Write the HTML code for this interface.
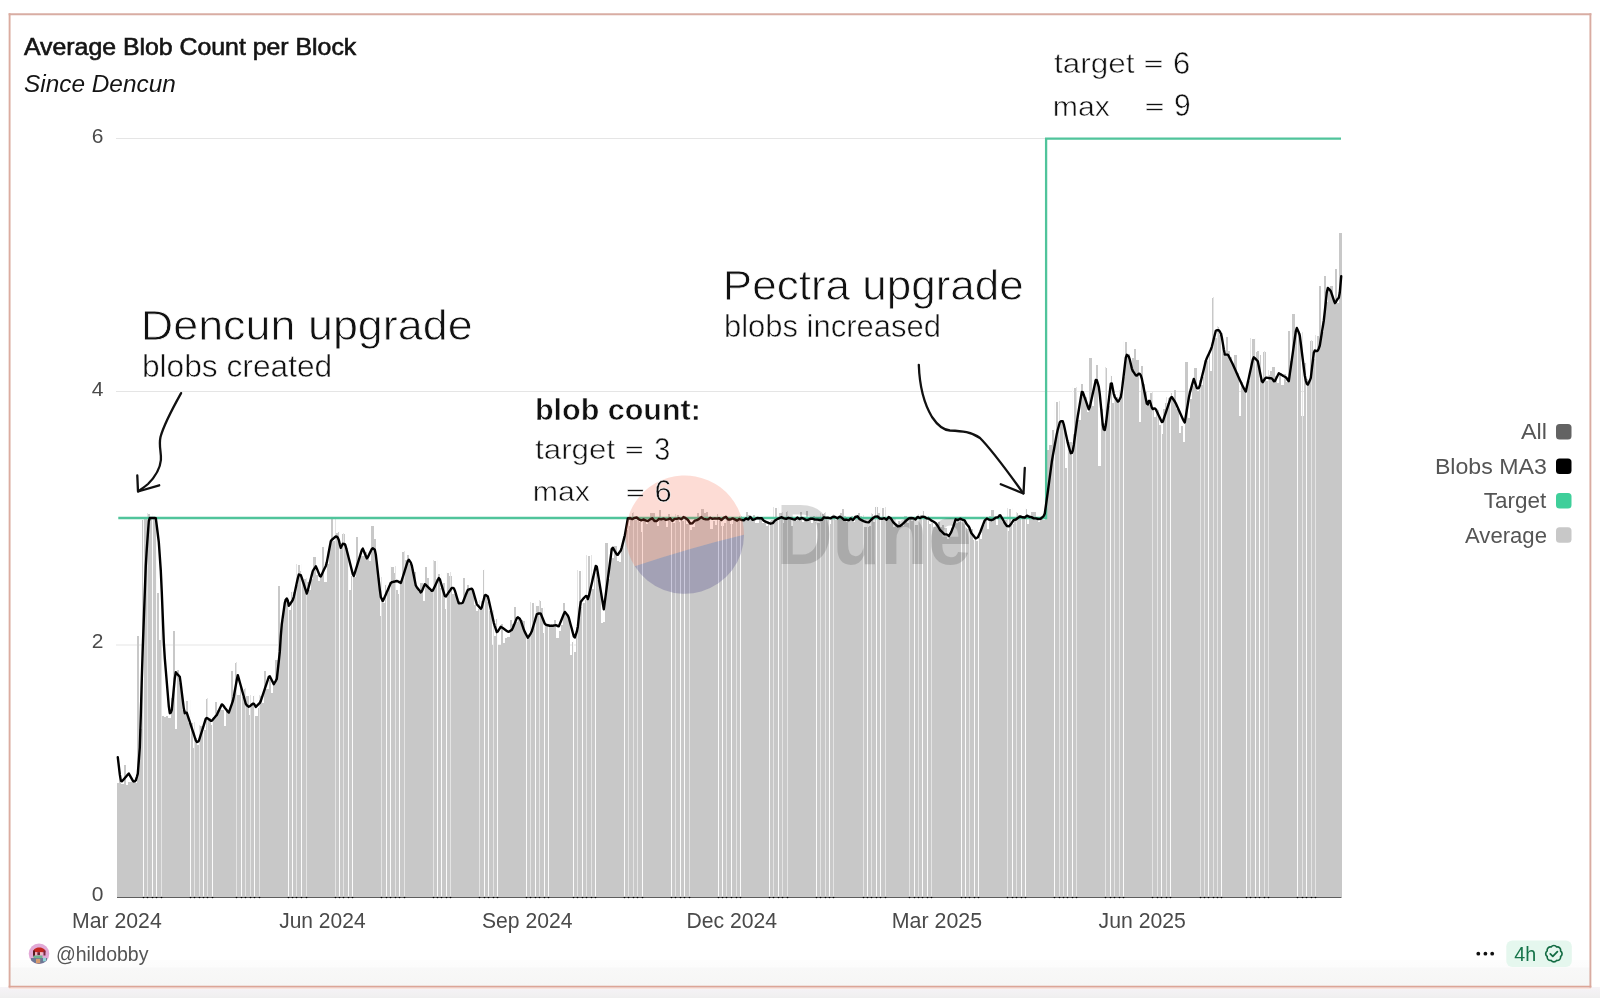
<!DOCTYPE html>
<html><head><meta charset="utf-8"><title>Average Blob Count per Block</title>
<style>
html,body{margin:0;padding:0;}
body{width:1600px;height:998px;overflow:hidden;background:#fff;position:relative;font-family:"Liberation Sans",sans-serif;}
.under{position:absolute;left:0;top:987px;width:1600px;height:11px;background:linear-gradient(#f6f3f7,#efefef);}
.card{position:absolute;left:9px;top:13px;width:1579px;height:972px;border:1.5px solid #e2ab9f;background:#fff;}
.foot{position:absolute;left:10px;top:960px;width:1580px;height:26px;background:linear-gradient(#fdfdfd 0px,#fcfcfc 7px,#f8f8f8 8px,#f6f6f5 26px);}
svg{position:absolute;left:0;top:0;will-change:transform;}
</style></head>
<body>
<div class="under"></div>
<div class="foot"></div>
<svg width="1600" height="998" viewBox="0 0 1600 998" font-family="Liberation Sans, sans-serif">
  <g stroke-width="1.9" fill="none">
    <line x1="8.65" y1="14.3" x2="1591.35" y2="14.3" stroke="#d8ada3"/>
    <line x1="9.6" y1="13.35" x2="9.6" y2="987.55" stroke="#dbaca0"/>
    <line x1="1590.4" y1="13.35" x2="1590.4" y2="987.55" stroke="#d9aba1"/>
    <line x1="8.65" y1="986.6" x2="1591.35" y2="986.6" stroke="#dca597"/>
  </g>
  <rect x="9" y="988" width="1582" height="1" fill="#fbe4dc"/>
  <text x="24.00" y="55.4" font-size="23.2" textLength="332.24" lengthAdjust="spacingAndGlyphs" fill="#141414" stroke="#141414" stroke-width="0.6">Average Blob Count per Block</text>
  <text x="23.98" y="92" font-size="23.5" font-style="italic" textLength="151.88" lengthAdjust="spacingAndGlyphs" fill="#141414">Since Dencun</text>
  <!-- gridlines -->
  <g stroke="#e5e5e5" stroke-width="1.1">
    <line x1="116" y1="138.5" x2="1341" y2="138.5"/>
    <line x1="116" y1="391.5" x2="1341" y2="391.5"/>
    <line x1="116" y1="645" x2="1341" y2="645"/>
  </g>

  <!-- y labels -->
  <g font-size="21" fill="#4a4a4a" text-anchor="end">
    <text x="103.5" y="143">6</text>
    <text x="103.5" y="395.5">4</text>
    <text x="103.5" y="648">2</text>
    <text x="103.5" y="901">0</text>
  </g>
  <text x="72.02" y="928.2" font-size="21.5" textLength="89.71" lengthAdjust="spacingAndGlyphs" fill="#4a4a4a">Mar 2024</text>
  <text x="279.21" y="928.2" font-size="21.5" textLength="86.35" lengthAdjust="spacingAndGlyphs" fill="#4a4a4a">Jun 2024</text>
  <text x="482.02" y="928.2" font-size="21.5" textLength="90.45" lengthAdjust="spacingAndGlyphs" fill="#4a4a4a">Sep 2024</text>
  <text x="686.43" y="928.2" font-size="21.5" textLength="90.72" lengthAdjust="spacingAndGlyphs" fill="#4a4a4a">Dec 2024</text>
  <text x="891.81" y="928.2" font-size="21.5" textLength="90.34" lengthAdjust="spacingAndGlyphs" fill="#4a4a4a">Mar 2025</text>
  <text x="1098.60" y="928.2" font-size="21.5" textLength="87.25" lengthAdjust="spacingAndGlyphs" fill="#4a4a4a">Jun 2025</text>
  <!-- bars -->
  <path d="M117.00,897.0L117.00,783.2L119.23,783.2L119.23,781.1L121.46,781.1L121.46,784.2L123.69,784.2L123.69,764.7L125.92,764.7L125.92,784.9L128.15,784.9L128.15,782.4L130.38,782.4L130.38,782.2L132.61,782.2L132.61,782.7L134.84,782.7L134.84,782.7L137.07,782.7L137.07,636.0L139.30,636.0L139.30,729.0L141.53,729.0L141.53,519.5L143.77,519.5L143.77,519.0L146.00,519.0L146.00,519.0L148.23,519.0L148.23,513.8L150.46,513.8L150.46,519.0L152.69,519.0L152.69,519.0L154.92,519.0L154.92,519.0L157.15,519.0L157.15,593.2L159.38,593.2L159.38,639.8L161.61,639.8L161.61,716.0L163.84,716.0L163.84,717.0L166.07,717.0L166.07,716.0L168.30,716.0L168.30,718.0L170.53,718.0L170.53,698.2L172.76,698.2L172.76,630.7L174.99,630.7L174.99,728.7L177.22,728.7L177.22,669.5L179.45,669.5L179.45,683.2L181.68,683.2L181.68,709.6L183.91,709.6L183.91,709.6L186.14,709.6L186.14,700.6L188.37,700.6L188.37,722.9L190.60,722.9L190.60,722.7L192.83,722.7L192.83,748.2L195.06,748.2L195.06,737.8L197.30,737.8L197.30,744.6L199.53,744.6L199.53,726.1L201.76,726.1L201.76,732.0L203.99,732.0L203.99,730.1L206.22,730.1L206.22,699.4L208.45,699.4L208.45,717.7L210.68,717.7L210.68,725.1L212.91,725.1L212.91,719.3L215.14,719.3L215.14,701.6L217.37,701.6L217.37,709.8L219.60,709.8L219.60,709.8L221.83,709.8L221.83,709.6L224.06,709.6L224.06,725.7L226.29,725.7L226.29,710.1L228.52,710.1L228.52,709.2L230.75,709.2L230.75,670.8L232.98,670.8L232.98,694.3L235.21,694.3L235.21,662.5L237.44,662.5L237.44,694.6L239.67,694.6L239.67,685.2L241.90,685.2L241.90,696.9L244.13,696.9L244.13,689.4L246.36,689.4L246.36,695.6L248.59,695.6L248.59,714.6L250.83,714.6L250.83,705.0L253.06,705.0L253.06,695.6L255.29,695.6L255.29,716.0L257.52,716.0L257.52,708.0L259.75,708.0L259.75,696.0L261.98,696.0L261.98,703.1L264.21,703.1L264.21,671.0L266.44,671.0L266.44,689.4L268.67,689.4L268.67,680.1L270.90,680.1L270.90,693.0L273.13,693.0L273.13,680.5L275.36,680.5L275.36,659.5L277.59,659.5L277.59,586.4L279.82,586.4L279.82,635.8L282.05,635.8L282.05,619.8L284.28,619.8L284.28,599.2L286.51,599.2L286.51,602.7L288.74,602.7L288.74,609.7L290.97,609.7L290.97,592.2L293.20,592.2L293.20,592.3L295.43,592.3L295.43,584.6L297.66,584.6L297.66,564.6L299.89,564.6L299.89,570.6L302.12,570.6L302.12,582.6L304.36,582.6L304.36,578.9L306.59,578.9L306.59,582.4L308.82,582.4L308.82,589.5L311.05,589.5L311.05,578.5L313.28,578.5L313.28,557.3L315.51,557.3L315.51,575.3L317.74,575.3L317.74,581.0L319.97,581.0L319.97,573.8L322.20,573.8L322.20,547.3L324.43,547.3L324.43,581.8L326.66,581.8L326.66,563.9L328.89,563.9L328.89,546.5L331.12,546.5L331.12,518.8L333.35,518.8L333.35,540.5L335.58,540.5L335.58,532.7L337.81,532.7L337.81,532.3L340.04,532.3L340.04,547.2L342.27,547.2L342.27,534.3L344.50,534.3L344.50,543.5L346.73,543.5L346.73,548.3L348.96,548.3L348.96,589.9L351.19,589.9L351.19,575.7L353.42,575.7L353.42,577.3L355.65,577.3L355.65,537.3L357.89,537.3L357.89,560.4L360.12,560.4L360.12,555.8L362.35,555.8L362.35,555.5L364.58,555.5L364.58,551.6L366.81,551.6L366.81,554.6L369.04,554.6L369.04,561.3L371.27,561.3L371.27,526.0L373.50,526.0L373.50,539.0L375.73,539.0L375.73,565.3L377.96,565.3L377.96,577.6L380.19,577.6L380.19,616.2L382.42,616.2L382.42,602.7L384.65,602.7L384.65,584.7L386.88,584.7L386.88,588.4L389.11,588.4L389.11,582.4L391.34,582.4L391.34,566.6L393.57,566.6L393.57,573.4L395.80,573.4L395.80,589.5L398.03,589.5L398.03,594.2L400.26,594.2L400.26,584.3L402.49,584.3L402.49,551.6L404.72,551.6L404.72,560.3L406.95,560.3L406.95,554.6L409.18,554.6L409.18,563.8L411.42,563.8L411.42,568.6L413.65,568.6L413.65,571.9L415.88,571.9L415.88,587.3L418.11,587.3L418.11,592.2L420.34,592.2L420.34,582.8L422.57,582.8L422.57,600.8L424.80,600.8L424.80,567.3L427.03,567.3L427.03,577.7L429.26,577.7L429.26,591.1L431.49,591.1L431.49,590.2L433.72,590.2L433.72,560.6L435.95,560.6L435.95,578.7L438.18,578.7L438.18,573.6L440.41,573.6L440.41,587.8L442.64,587.8L442.64,583.1L444.87,583.1L444.87,609.4L447.10,609.4L447.10,572.6L449.33,572.6L449.33,575.5L451.56,575.5L451.56,593.5L453.79,593.5L453.79,593.7L456.02,593.7L456.02,598.7L458.25,598.7L458.25,601.3L460.48,601.3L460.48,604.5L462.71,604.5L462.71,577.9L464.95,577.9L464.95,596.4L467.18,596.4L467.18,584.7L469.41,584.7L469.41,587.9L471.64,587.9L471.64,590.6L473.87,590.6L473.87,604.6L476.10,604.6L476.10,610.6L478.33,610.6L478.33,609.0L480.56,609.0L480.56,601.3L482.79,601.3L482.79,570.3L485.02,570.3L485.02,597.2L487.25,597.2L487.25,601.7L489.48,601.7L489.48,610.8L491.71,610.8L491.71,644.7L493.94,644.7L493.94,636.2L496.17,636.2L496.17,619.2L498.40,619.2L498.40,644.8L500.63,644.8L500.63,624.2L502.86,624.2L502.86,643.4L505.09,643.4L505.09,638.2L507.32,638.2L507.32,636.9L509.55,636.9L509.55,620.1L511.78,620.1L511.78,624.4L514.01,624.4L514.01,607.2L516.24,607.2L516.24,621.8L518.48,621.8L518.48,619.4L520.71,619.4L520.71,619.5L522.94,619.5L522.94,620.6L525.17,620.6L525.17,632.8L527.40,632.8L527.40,637.9L529.63,637.9L529.63,629.0L531.86,629.0L531.86,602.7L534.09,602.7L534.09,620.5L536.32,620.5L536.32,605.9L538.55,605.9L538.55,600.5L540.78,600.5L540.78,608.1L543.01,608.1L543.01,633.0L545.24,633.0L545.24,624.1L547.47,624.1L547.47,624.3L549.70,624.3L549.70,623.7L551.93,623.7L551.93,626.1L554.16,626.1L554.16,620.1L556.39,620.1L556.39,638.3L558.62,638.3L558.62,630.9L560.85,630.9L560.85,625.4L563.08,625.4L563.08,602.7L565.31,602.7L565.31,615.1L567.54,615.1L567.54,620.4L569.78,620.4L569.78,655.3L572.01,655.3L572.01,642.1L574.24,642.1L574.24,651.7L576.47,651.7L576.47,627.1L578.70,627.1L578.70,571.1L580.93,571.1L580.93,607.4L583.16,607.4L583.16,602.6L585.39,602.6L585.39,600.1L587.62,600.1L587.62,556.1L589.85,556.1L589.85,589.0L592.08,589.0L592.08,589.3L594.31,589.3L594.31,572.6L596.54,572.6L596.54,580.4L598.77,580.4L598.77,586.8L601.00,586.8L601.00,623.1L603.23,623.1L603.23,622.3L605.46,622.3L605.46,542.6L607.69,542.6L607.69,579.1L609.92,579.1L609.92,548.9L612.15,548.9L612.15,558.1L614.38,558.1L614.38,545.6L616.61,545.6L616.61,561.4L618.84,561.4L618.84,561.9L621.07,561.9L621.07,546.5L623.31,546.5L623.31,536.0L625.54,536.0L625.54,529.5L627.77,529.5L627.77,525.6L630.00,525.6L630.00,519.8L632.23,519.8L632.23,513.1L634.46,513.1L634.46,520.3L636.69,520.3L636.69,521.3L638.92,521.3L638.92,521.6L641.15,521.6L641.15,531.7L643.38,531.7L643.38,519.0L645.61,519.0L645.61,524.3L647.84,524.3L647.84,517.9L650.07,517.9L650.07,512.9L652.30,512.9L652.30,513.2L654.53,513.2L654.53,517.8L656.76,517.8L656.76,525.7L658.99,525.7L658.99,510.1L661.22,510.1L661.22,519.8L663.45,519.8L663.45,520.4L665.68,520.4L665.68,527.1L667.91,527.1L667.91,513.7L670.14,513.7L670.14,517.4L672.37,517.4L672.37,523.4L674.60,523.4L674.60,516.8L676.84,516.8L676.84,514.7L679.07,514.7L679.07,522.0L681.30,522.0L681.30,520.5L683.53,520.5L683.53,515.8L685.76,515.8L685.76,524.1L687.99,524.1L687.99,524.4L690.22,524.4L690.22,529.7L692.45,529.7L692.45,527.0L694.68,527.0L694.68,520.1L696.91,520.1L696.91,513.2L699.14,513.2L699.14,515.7L701.37,515.7L701.37,508.8L703.60,508.8L703.60,513.3L705.83,513.3L705.83,512.3L708.06,512.3L708.06,517.3L710.29,517.3L710.29,528.8L712.52,528.8L712.52,520.9L714.75,520.9L714.75,524.6L716.98,524.6L716.98,514.4L719.21,514.4L719.21,521.3L721.44,521.3L721.44,525.7L723.67,525.7L723.67,522.7L725.90,522.7L725.90,518.7L728.13,518.7L728.13,520.0L730.37,520.0L730.37,524.3L732.60,524.3L732.60,518.1L734.83,518.1L734.83,521.0L737.06,521.0L737.06,520.9L739.29,520.9L739.29,515.8L741.52,515.8L741.52,517.9L743.75,517.9L743.75,518.9L745.98,518.9L745.98,511.8L748.21,511.8L748.21,515.2L750.44,515.2L750.44,519.3L752.67,519.3L752.67,515.0L754.90,515.0L754.90,523.0L757.13,523.0L757.13,523.0L759.36,523.0L759.36,517.8L761.59,517.8L761.59,523.2L763.82,523.2L763.82,521.7L766.05,521.7L766.05,526.1L768.28,526.1L768.28,521.4L770.51,521.4L770.51,520.3L772.74,520.3L772.74,516.8L774.97,516.8L774.97,508.0L777.20,508.0L777.20,521.0L779.43,521.0L779.43,512.6L781.66,512.6L781.66,523.0L783.90,523.0L783.90,517.9L786.13,517.9L786.13,511.9L788.36,511.9L788.36,516.5L790.59,516.5L790.59,525.5L792.82,525.5L792.82,518.2L795.05,518.2L795.05,521.3L797.28,521.3L797.28,517.2L799.51,517.2L799.51,512.1L801.74,512.1L801.74,521.9L803.97,521.9L803.97,517.9L806.20,517.9L806.20,510.7L808.43,510.7L808.43,519.0L810.66,519.0L810.66,523.3L812.89,523.3L812.89,515.5L815.12,515.5L815.12,521.5L817.35,521.5L817.35,522.8L819.58,522.8L819.58,521.3L821.81,521.3L821.81,514.1L824.04,514.1L824.04,512.7L826.27,512.7L826.27,519.0L828.50,519.0L828.50,524.3L830.73,524.3L830.73,517.8L832.96,517.8L832.96,514.9L835.19,514.9L835.19,519.9L837.43,519.9L837.43,517.3L839.66,517.3L839.66,513.3L841.89,513.3L841.89,509.4L844.12,509.4L844.12,516.2L846.35,516.2L846.35,522.4L848.58,522.4L848.58,517.2L850.81,517.2L850.81,516.4L853.04,516.4L853.04,521.7L855.27,521.7L855.27,518.5L857.50,518.5L857.50,513.1L859.73,513.1L859.73,516.1L861.96,516.1L861.96,518.5L864.19,518.5L864.19,526.7L866.42,526.7L866.42,527.2L868.65,527.2L868.65,526.4L870.88,526.4L870.88,514.1L873.11,514.1L873.11,522.2L875.34,522.2L875.34,506.9L877.57,506.9L877.57,513.2L879.80,513.2L879.80,519.2L882.03,519.2L882.03,508.4L884.26,508.4L884.26,518.4L886.49,518.4L886.49,518.5L888.72,518.5L888.72,518.3L890.96,518.3L890.96,517.5L893.19,517.5L893.19,526.6L895.42,526.6L895.42,525.5L897.65,525.5L897.65,520.9L899.88,520.9L899.88,524.2L902.11,524.2L902.11,525.6L904.34,525.6L904.34,515.8L906.57,515.8L906.57,522.6L908.80,522.6L908.80,516.7L911.03,516.7L911.03,521.4L913.26,521.4L913.26,520.3L915.49,520.3L915.49,525.0L917.72,525.0L917.72,519.9L919.95,519.9L919.95,514.8L922.18,514.8L922.18,510.9L924.41,510.9L924.41,518.4L926.64,518.4L926.64,515.8L928.87,515.8L928.87,524.3L931.10,524.3L931.10,523.0L933.33,523.0L933.33,526.7L935.56,526.7L935.56,524.9L937.79,524.9L937.79,521.8L940.02,521.8L940.02,527.0L942.26,527.0L942.26,525.3L944.49,525.3L944.49,527.9L946.72,527.9L946.72,539.0L948.95,539.0L948.95,533.2L951.18,533.2L951.18,527.9L953.41,527.9L953.41,523.5L955.64,523.5L955.64,522.5L957.87,522.5L957.87,522.3L960.10,522.3L960.10,516.9L962.33,516.9L962.33,517.4L964.56,517.4L964.56,527.7L966.79,527.7L966.79,528.9L969.02,528.9L969.02,526.9L971.25,526.9L971.25,529.2L973.48,529.2L973.48,539.6L975.71,539.6L975.71,540.9L977.94,540.9L977.94,535.7L980.17,535.7L980.17,539.0L982.40,539.0L982.40,525.1L984.63,525.1L984.63,518.5L986.86,518.5L986.86,528.8L989.09,528.8L989.09,516.4L991.32,516.4L991.32,510.0L993.55,510.0L993.55,515.6L995.79,515.6L995.79,525.3L998.02,525.3L998.02,514.2L1000.25,514.2L1000.25,518.2L1002.48,518.2L1002.48,521.5L1004.71,521.5L1004.71,519.5L1006.94,519.5L1006.94,530.9L1009.17,530.9L1009.17,509.2L1011.40,509.2L1011.40,524.2L1013.63,524.2L1013.63,517.7L1015.86,517.7L1015.86,513.3L1018.09,513.3L1018.09,515.1L1020.32,515.1L1020.32,517.0L1022.55,517.0L1022.55,516.4L1024.78,516.4L1024.78,508.8L1027.01,508.8L1027.01,523.9L1029.24,523.9L1029.24,517.8L1031.47,517.8L1031.47,512.0L1033.70,512.0L1033.70,511.7L1035.93,511.7L1035.93,517.8L1038.16,517.8L1038.16,522.1L1040.39,522.1L1040.39,519.4L1042.62,519.4L1042.62,519.6L1044.85,519.6L1044.85,509.1L1047.08,509.1L1047.08,450.3L1049.32,450.3L1049.32,445.0L1051.55,445.0L1051.55,430.0L1053.78,430.0L1053.78,439.9L1056.01,439.9L1056.01,402.2L1058.24,402.2L1058.24,429.0L1060.47,429.0L1060.47,422.0L1062.70,422.0L1062.70,428.4L1064.93,428.4L1064.93,468.3L1067.16,468.3L1067.16,440.2L1069.39,440.2L1069.39,441.8L1071.62,441.8L1071.62,433.9L1073.85,433.9L1073.85,388.1L1076.08,388.1L1076.08,419.1L1078.31,419.1L1078.31,420.2L1080.54,420.2L1080.54,384.2L1082.77,384.2L1082.77,394.3L1085.00,394.3L1085.00,396.7L1087.23,396.7L1087.23,411.6L1089.46,411.6L1089.46,358.1L1091.69,358.1L1091.69,405.5L1093.92,405.5L1093.92,379.9L1096.15,379.9L1096.15,365.1L1098.38,365.1L1098.38,466.3L1100.61,466.3L1100.61,408.7L1102.85,408.7L1102.85,423.3L1105.08,423.3L1105.08,368.1L1107.31,368.1L1107.31,406.0L1109.54,406.0L1109.54,375.8L1111.77,375.8L1111.77,402.9L1114.00,402.9L1114.00,393.6L1116.23,393.6L1116.23,396.6L1118.46,396.6L1118.46,400.9L1120.69,400.9L1120.69,390.9L1122.92,390.9L1122.92,377.1L1125.15,377.1L1125.15,342.0L1127.38,342.0L1127.38,354.2L1129.61,354.2L1129.61,363.1L1131.84,363.1L1131.84,358.4L1134.07,358.4L1134.07,349.0L1136.30,349.0L1136.30,360.1L1138.53,360.1L1138.53,422.2L1140.76,422.2L1140.76,366.3L1142.99,366.3L1142.99,384.2L1145.22,384.2L1145.22,391.5L1147.45,391.5L1147.45,404.8L1149.68,404.8L1149.68,392.6L1151.91,392.6L1151.91,408.2L1154.14,408.2L1154.14,416.9L1156.38,416.9L1156.38,410.2L1158.61,410.2L1158.61,424.6L1160.84,424.6L1160.84,433.9L1163.07,433.9L1163.07,409.1L1165.30,409.1L1165.30,403.4L1167.53,403.4L1167.53,397.7L1169.76,397.7L1169.76,393.3L1171.99,393.3L1171.99,399.3L1174.22,399.3L1174.22,390.4L1176.45,390.4L1176.45,409.1L1178.68,409.1L1178.68,433.2L1180.91,433.2L1180.91,425.8L1183.14,425.8L1183.14,442.0L1185.37,442.0L1185.37,362.3L1187.60,362.3L1187.60,417.7L1189.83,417.7L1189.83,399.0L1192.06,399.0L1192.06,385.5L1194.29,385.5L1194.29,367.8L1196.52,367.8L1196.52,390.6L1198.75,390.6L1198.75,379.6L1200.98,379.6L1200.98,384.9L1203.21,384.9L1203.21,376.5L1205.44,376.5L1205.44,360.8L1207.67,360.8L1207.67,350.3L1209.91,350.3L1209.91,370.8L1212.14,370.8L1212.14,298.3L1214.37,298.3L1214.37,337.9L1216.60,337.9L1216.60,326.5L1218.83,326.5L1218.83,335.4L1221.06,335.4L1221.06,332.7L1223.29,332.7L1223.29,353.6L1225.52,353.6L1225.52,336.9L1227.75,336.9L1227.75,351.3L1229.98,351.3L1229.98,356.7L1232.21,356.7L1232.21,364.1L1234.44,364.1L1234.44,354.6L1236.67,354.6L1236.67,373.0L1238.90,373.0L1238.90,416.3L1241.13,416.3L1241.13,381.9L1243.36,381.9L1243.36,390.8L1245.59,390.8L1245.59,383.6L1247.82,383.6L1247.82,380.8L1250.05,380.8L1250.05,362.3L1252.28,362.3L1252.28,339.1L1254.51,339.1L1254.51,352.1L1256.74,352.1L1256.74,350.8L1258.97,350.8L1258.97,355.2L1261.20,355.2L1261.20,380.4L1263.44,380.4L1263.44,352.4L1265.67,352.4L1265.67,380.5L1267.90,380.5L1267.90,374.7L1270.13,374.7L1270.13,370.5L1272.36,370.5L1272.36,366.7L1274.59,366.7L1274.59,375.8L1276.82,375.8L1276.82,383.2L1279.05,383.2L1279.05,374.8L1281.28,374.8L1281.28,385.3L1283.51,385.3L1283.51,374.1L1285.74,374.1L1285.74,382.2L1287.97,382.2L1287.97,331.4L1290.20,331.4L1290.20,360.6L1292.43,360.6L1292.43,313.8L1294.66,313.8L1294.66,332.7L1296.89,332.7L1296.89,334.8L1299.12,334.8L1299.12,332.5L1301.35,332.5L1301.35,416.3L1303.58,416.3L1303.58,362.6L1305.81,362.6L1305.81,379.4L1308.04,379.4L1308.04,382.4L1310.27,382.4L1310.27,341.3L1312.50,341.3L1312.50,358.8L1314.73,358.8L1314.73,351.5L1316.97,351.5L1316.97,335.7L1319.20,335.7L1319.20,286.2L1321.43,286.2L1321.43,331.9L1323.66,331.9L1323.66,276.3L1325.89,276.3L1325.89,302.1L1328.12,302.1L1328.12,290.2L1330.35,290.2L1330.35,286.1L1332.58,286.1L1332.58,303.7L1334.81,303.7L1334.81,268.5L1337.04,268.5L1337.04,303.0L1339.27,303.0L1339.27,233.2L1341.50,233.2L1341.50,897.0Z" fill="#c8c8c8" shape-rendering="crispEdges"/>
  <g shape-rendering="crispEdges"><rect x="143" y="518.0" width="1" height="379.0" fill="#fbfbfb"/><rect x="147" y="512.8" width="1" height="384.2" fill="#e4e4e4"/><rect x="152" y="512.8" width="1" height="384.2" fill="#fbfbfb"/><rect x="156" y="518.0" width="1" height="379.0" fill="#fbfbfb"/><rect x="161" y="592.2" width="1" height="304.8" fill="#e4e4e4"/><rect x="190" y="699.6" width="1" height="197.4" fill="#fbfbfb"/><rect x="194" y="721.7" width="1" height="175.3" fill="#e4e4e4"/><rect x="199" y="725.1" width="1" height="171.9" fill="#e4e4e4"/><rect x="203" y="725.1" width="1" height="171.9" fill="#fbfbfb"/><rect x="207" y="698.4" width="1" height="198.6" fill="#e4e4e4"/><rect x="212" y="716.7" width="1" height="180.3" fill="#fbfbfb"/><rect x="236" y="661.5" width="1" height="235.5" fill="#e4e4e4"/><rect x="241" y="684.2" width="1" height="212.8" fill="#fbfbfb"/><rect x="245" y="688.4" width="1" height="208.6" fill="#e4e4e4"/><rect x="250" y="694.6" width="1" height="202.4" fill="#e4e4e4"/><rect x="254" y="694.6" width="1" height="202.4" fill="#fbfbfb"/><rect x="259" y="695.0" width="1" height="202.0" fill="#e4e4e4"/><rect x="288" y="591.2" width="1" height="305.8" fill="#fbfbfb"/><rect x="292" y="591.2" width="1" height="305.8" fill="#fbfbfb"/><rect x="296" y="563.6" width="1" height="333.4" fill="#e4e4e4"/><rect x="301" y="563.6" width="1" height="333.4" fill="#fbfbfb"/><rect x="306" y="577.9" width="1" height="319.1" fill="#e4e4e4"/><rect x="335" y="517.8" width="1" height="379.2" fill="#e4e4e4"/><rect x="339" y="531.3" width="1" height="365.7" fill="#fbfbfb"/><rect x="343" y="533.3" width="1" height="363.7" fill="#e4e4e4"/><rect x="348" y="542.5" width="1" height="354.5" fill="#fbfbfb"/><rect x="352" y="574.7" width="1" height="322.3" fill="#fbfbfb"/><rect x="381" y="576.6" width="1" height="320.4" fill="#e4e4e4"/><rect x="386" y="583.7" width="1" height="313.3" fill="#fbfbfb"/><rect x="390" y="565.6" width="1" height="331.4" fill="#fbfbfb"/><rect x="395" y="565.6" width="1" height="331.4" fill="#e4e4e4"/><rect x="399" y="583.3" width="1" height="313.7" fill="#fbfbfb"/><rect x="404" y="550.6" width="1" height="346.4" fill="#e4e4e4"/><rect x="433" y="559.6" width="1" height="337.4" fill="#e4e4e4"/><rect x="437" y="559.6" width="1" height="337.4" fill="#fbfbfb"/><rect x="441" y="572.6" width="1" height="324.4" fill="#fbfbfb"/><rect x="446" y="571.6" width="1" height="325.4" fill="#fbfbfb"/><rect x="450" y="571.6" width="1" height="325.4" fill="#e4e4e4"/><rect x="479" y="600.3" width="1" height="296.7" fill="#e4e4e4"/><rect x="484" y="569.3" width="1" height="327.7" fill="#fbfbfb"/><rect x="488" y="596.2" width="1" height="300.8" fill="#fbfbfb"/><rect x="493" y="609.8" width="1" height="287.2" fill="#e4e4e4"/><rect x="497" y="618.2" width="1" height="278.8" fill="#fbfbfb"/><rect x="526" y="619.6" width="1" height="277.4" fill="#fbfbfb"/><rect x="530" y="601.7" width="1" height="295.3" fill="#e4e4e4"/><rect x="535" y="601.7" width="1" height="295.3" fill="#fbfbfb"/><rect x="539" y="599.5" width="1" height="297.5" fill="#e4e4e4"/><rect x="544" y="607.1" width="1" height="289.9" fill="#fbfbfb"/><rect x="548" y="622.7" width="1" height="274.3" fill="#fbfbfb"/><rect x="573" y="641.1" width="1" height="255.9" fill="#fbfbfb"/><rect x="577" y="570.1" width="1" height="326.9" fill="#e4e4e4"/><rect x="582" y="570.1" width="1" height="326.9" fill="#fbfbfb"/><rect x="586" y="555.1" width="1" height="341.9" fill="#e4e4e4"/><rect x="591" y="555.1" width="1" height="341.9" fill="#e4e4e4"/><rect x="595" y="571.6" width="1" height="325.4" fill="#fbfbfb"/><rect x="624" y="528.5" width="1" height="368.5" fill="#fbfbfb"/><rect x="628" y="518.8" width="1" height="378.2" fill="#e4e4e4"/><rect x="633" y="512.1" width="1" height="384.9" fill="#e4e4e4"/><rect x="637" y="519.3" width="1" height="377.7" fill="#e4e4e4"/><rect x="642" y="518.0" width="1" height="379.0" fill="#fbfbfb"/><rect x="671" y="512.7" width="1" height="384.3" fill="#fbfbfb"/><rect x="675" y="513.7" width="1" height="383.3" fill="#e4e4e4"/><rect x="680" y="513.7" width="1" height="383.3" fill="#fbfbfb"/><rect x="684" y="514.8" width="1" height="382.2" fill="#fbfbfb"/><rect x="689" y="523.1" width="1" height="373.9" fill="#e4e4e4"/><rect x="718" y="513.4" width="1" height="383.6" fill="#fbfbfb"/><rect x="722" y="520.3" width="1" height="376.7" fill="#fbfbfb"/><rect x="726" y="517.7" width="1" height="379.3" fill="#e4e4e4"/><rect x="731" y="517.1" width="1" height="379.9" fill="#fbfbfb"/><rect x="736" y="517.1" width="1" height="379.9" fill="#e4e4e4"/><rect x="740" y="514.8" width="1" height="382.2" fill="#fbfbfb"/><rect x="769" y="519.3" width="1" height="377.7" fill="#fbfbfb"/><rect x="773" y="507.0" width="1" height="390.0" fill="#e4e4e4"/><rect x="778" y="507.0" width="1" height="390.0" fill="#fbfbfb"/><rect x="782" y="511.6" width="1" height="385.4" fill="#e4e4e4"/><rect x="787" y="510.9" width="1" height="386.1" fill="#e4e4e4"/><rect x="816" y="514.5" width="1" height="382.5" fill="#fbfbfb"/><rect x="820" y="513.1" width="1" height="383.9" fill="#e4e4e4"/><rect x="825" y="511.7" width="1" height="385.3" fill="#e4e4e4"/><rect x="829" y="516.8" width="1" height="380.2" fill="#fbfbfb"/><rect x="833" y="513.9" width="1" height="383.1" fill="#e4e4e4"/><rect x="863" y="515.1" width="1" height="381.9" fill="#e4e4e4"/><rect x="867" y="525.4" width="1" height="371.6" fill="#fbfbfb"/><rect x="871" y="513.1" width="1" height="383.9" fill="#e4e4e4"/><rect x="876" y="505.9" width="1" height="391.1" fill="#fbfbfb"/><rect x="880" y="507.4" width="1" height="389.6" fill="#fbfbfb"/><rect x="885" y="507.4" width="1" height="389.6" fill="#e4e4e4"/><rect x="909" y="515.7" width="1" height="381.3" fill="#e4e4e4"/><rect x="914" y="519.3" width="1" height="377.7" fill="#fbfbfb"/><rect x="918" y="513.8" width="1" height="383.2" fill="#e4e4e4"/><rect x="922" y="509.9" width="1" height="387.1" fill="#fbfbfb"/><rect x="927" y="514.8" width="1" height="382.2" fill="#fbfbfb"/><rect x="931" y="522.0" width="1" height="375.0" fill="#e4e4e4"/><rect x="961" y="515.9" width="1" height="381.1" fill="#fbfbfb"/><rect x="965" y="516.4" width="1" height="380.6" fill="#fbfbfb"/><rect x="969" y="525.9" width="1" height="371.1" fill="#e4e4e4"/><rect x="974" y="528.2" width="1" height="368.8" fill="#fbfbfb"/><rect x="978" y="534.7" width="1" height="362.3" fill="#fbfbfb"/><rect x="1007" y="508.2" width="1" height="388.8" fill="#e4e4e4"/><rect x="1012" y="508.2" width="1" height="388.8" fill="#fbfbfb"/><rect x="1016" y="512.3" width="1" height="384.7" fill="#e4e4e4"/><rect x="1021" y="514.1" width="1" height="382.9" fill="#fbfbfb"/><rect x="1025" y="507.8" width="1" height="389.2" fill="#fbfbfb"/><rect x="1054" y="401.2" width="1" height="495.8" fill="#fbfbfb"/><rect x="1059" y="401.2" width="1" height="495.8" fill="#e4e4e4"/><rect x="1063" y="421.0" width="1" height="476.0" fill="#e4e4e4"/><rect x="1067" y="439.2" width="1" height="457.8" fill="#fbfbfb"/><rect x="1072" y="387.1" width="1" height="509.9" fill="#fbfbfb"/><rect x="1076" y="387.1" width="1" height="509.9" fill="#e4e4e4"/><rect x="1105" y="367.1" width="1" height="529.9" fill="#e4e4e4"/><rect x="1110" y="374.8" width="1" height="522.2" fill="#fbfbfb"/><rect x="1114" y="392.6" width="1" height="504.4" fill="#e4e4e4"/><rect x="1119" y="389.9" width="1" height="507.1" fill="#e4e4e4"/><rect x="1123" y="341.0" width="1" height="556.0" fill="#fbfbfb"/><rect x="1152" y="391.6" width="1" height="505.4" fill="#e4e4e4"/><rect x="1157" y="409.2" width="1" height="487.8" fill="#e4e4e4"/><rect x="1161" y="408.1" width="1" height="488.9" fill="#fbfbfb"/><rect x="1166" y="396.7" width="1" height="500.3" fill="#e4e4e4"/><rect x="1170" y="392.3" width="1" height="504.7" fill="#fbfbfb"/><rect x="1200" y="378.6" width="1" height="518.4" fill="#e4e4e4"/><rect x="1204" y="359.8" width="1" height="537.2" fill="#e4e4e4"/><rect x="1208" y="349.3" width="1" height="547.7" fill="#fbfbfb"/><rect x="1213" y="297.3" width="1" height="599.7" fill="#e4e4e4"/><rect x="1217" y="325.5" width="1" height="571.5" fill="#e4e4e4"/><rect x="1221" y="331.7" width="1" height="565.3" fill="#fbfbfb"/><rect x="1246" y="379.8" width="1" height="517.2" fill="#fbfbfb"/><rect x="1250" y="338.1" width="1" height="558.9" fill="#e4e4e4"/><rect x="1255" y="338.1" width="1" height="558.9" fill="#fbfbfb"/><rect x="1259" y="349.8" width="1" height="547.2" fill="#fbfbfb"/><rect x="1264" y="351.4" width="1" height="545.6" fill="#e4e4e4"/><rect x="1268" y="369.5" width="1" height="527.5" fill="#e4e4e4"/><rect x="1297" y="331.5" width="1" height="565.5" fill="#fbfbfb"/><rect x="1302" y="331.5" width="1" height="565.5" fill="#e4e4e4"/><rect x="1306" y="361.6" width="1" height="535.4" fill="#fbfbfb"/><rect x="1311" y="340.3" width="1" height="556.7" fill="#e4e4e4"/><rect x="1315" y="334.7" width="1" height="562.3" fill="#e4e4e4"/></g>
  <line x1="117" y1="897.45" x2="1341.5" y2="897.45" stroke="#5e5e5e" stroke-width="1.1"/>
  <g fill="#000"><ellipse cx="143.5" cy="897.45" rx="0.9" ry="0.75"/><ellipse cx="147.5" cy="897.45" rx="0.9" ry="0.75"/><ellipse cx="152.5" cy="897.45" rx="0.9" ry="0.75"/><ellipse cx="156.5" cy="897.45" rx="0.9" ry="0.75"/><ellipse cx="161.5" cy="897.45" rx="0.9" ry="0.75"/><ellipse cx="190.5" cy="897.45" rx="0.9" ry="0.75"/><ellipse cx="194.5" cy="897.45" rx="0.9" ry="0.75"/><ellipse cx="199.5" cy="897.45" rx="0.9" ry="0.75"/><ellipse cx="203.5" cy="897.45" rx="0.9" ry="0.75"/><ellipse cx="207.5" cy="897.45" rx="0.9" ry="0.75"/><ellipse cx="212.5" cy="897.45" rx="0.9" ry="0.75"/><ellipse cx="236.5" cy="897.45" rx="0.9" ry="0.75"/><ellipse cx="241.5" cy="897.45" rx="0.9" ry="0.75"/><ellipse cx="245.5" cy="897.45" rx="0.9" ry="0.75"/><ellipse cx="250.5" cy="897.45" rx="0.9" ry="0.75"/><ellipse cx="254.5" cy="897.45" rx="0.9" ry="0.75"/><ellipse cx="259.5" cy="897.45" rx="0.9" ry="0.75"/><ellipse cx="288.5" cy="897.45" rx="0.9" ry="0.75"/><ellipse cx="292.5" cy="897.45" rx="0.9" ry="0.75"/><ellipse cx="296.5" cy="897.45" rx="0.9" ry="0.75"/><ellipse cx="301.5" cy="897.45" rx="0.9" ry="0.75"/><ellipse cx="306.5" cy="897.45" rx="0.9" ry="0.75"/><ellipse cx="335.5" cy="897.45" rx="0.9" ry="0.75"/><ellipse cx="339.5" cy="897.45" rx="0.9" ry="0.75"/><ellipse cx="343.5" cy="897.45" rx="0.9" ry="0.75"/><ellipse cx="348.5" cy="897.45" rx="0.9" ry="0.75"/><ellipse cx="352.5" cy="897.45" rx="0.9" ry="0.75"/><ellipse cx="381.5" cy="897.45" rx="0.9" ry="0.75"/><ellipse cx="386.5" cy="897.45" rx="0.9" ry="0.75"/><ellipse cx="390.5" cy="897.45" rx="0.9" ry="0.75"/><ellipse cx="395.5" cy="897.45" rx="0.9" ry="0.75"/><ellipse cx="399.5" cy="897.45" rx="0.9" ry="0.75"/><ellipse cx="404.5" cy="897.45" rx="0.9" ry="0.75"/><ellipse cx="433.5" cy="897.45" rx="0.9" ry="0.75"/><ellipse cx="437.5" cy="897.45" rx="0.9" ry="0.75"/><ellipse cx="441.5" cy="897.45" rx="0.9" ry="0.75"/><ellipse cx="446.5" cy="897.45" rx="0.9" ry="0.75"/><ellipse cx="450.5" cy="897.45" rx="0.9" ry="0.75"/><ellipse cx="479.5" cy="897.45" rx="0.9" ry="0.75"/><ellipse cx="484.5" cy="897.45" rx="0.9" ry="0.75"/><ellipse cx="488.5" cy="897.45" rx="0.9" ry="0.75"/><ellipse cx="493.5" cy="897.45" rx="0.9" ry="0.75"/><ellipse cx="497.5" cy="897.45" rx="0.9" ry="0.75"/><ellipse cx="526.5" cy="897.45" rx="0.9" ry="0.75"/><ellipse cx="530.5" cy="897.45" rx="0.9" ry="0.75"/><ellipse cx="535.5" cy="897.45" rx="0.9" ry="0.75"/><ellipse cx="539.5" cy="897.45" rx="0.9" ry="0.75"/><ellipse cx="544.5" cy="897.45" rx="0.9" ry="0.75"/><ellipse cx="548.5" cy="897.45" rx="0.9" ry="0.75"/><ellipse cx="573.5" cy="897.45" rx="0.9" ry="0.75"/><ellipse cx="577.5" cy="897.45" rx="0.9" ry="0.75"/><ellipse cx="582.5" cy="897.45" rx="0.9" ry="0.75"/><ellipse cx="586.5" cy="897.45" rx="0.9" ry="0.75"/><ellipse cx="591.5" cy="897.45" rx="0.9" ry="0.75"/><ellipse cx="595.5" cy="897.45" rx="0.9" ry="0.75"/><ellipse cx="624.5" cy="897.45" rx="0.9" ry="0.75"/><ellipse cx="628.5" cy="897.45" rx="0.9" ry="0.75"/><ellipse cx="633.5" cy="897.45" rx="0.9" ry="0.75"/><ellipse cx="637.5" cy="897.45" rx="0.9" ry="0.75"/><ellipse cx="642.5" cy="897.45" rx="0.9" ry="0.75"/><ellipse cx="671.5" cy="897.45" rx="0.9" ry="0.75"/><ellipse cx="675.5" cy="897.45" rx="0.9" ry="0.75"/><ellipse cx="680.5" cy="897.45" rx="0.9" ry="0.75"/><ellipse cx="684.5" cy="897.45" rx="0.9" ry="0.75"/><ellipse cx="689.5" cy="897.45" rx="0.9" ry="0.75"/><ellipse cx="718.5" cy="897.45" rx="0.9" ry="0.75"/><ellipse cx="722.5" cy="897.45" rx="0.9" ry="0.75"/><ellipse cx="726.5" cy="897.45" rx="0.9" ry="0.75"/><ellipse cx="731.5" cy="897.45" rx="0.9" ry="0.75"/><ellipse cx="736.5" cy="897.45" rx="0.9" ry="0.75"/><ellipse cx="740.5" cy="897.45" rx="0.9" ry="0.75"/><ellipse cx="769.5" cy="897.45" rx="0.9" ry="0.75"/><ellipse cx="773.5" cy="897.45" rx="0.9" ry="0.75"/><ellipse cx="778.5" cy="897.45" rx="0.9" ry="0.75"/><ellipse cx="782.5" cy="897.45" rx="0.9" ry="0.75"/><ellipse cx="787.5" cy="897.45" rx="0.9" ry="0.75"/><ellipse cx="816.5" cy="897.45" rx="0.9" ry="0.75"/><ellipse cx="820.5" cy="897.45" rx="0.9" ry="0.75"/><ellipse cx="825.5" cy="897.45" rx="0.9" ry="0.75"/><ellipse cx="829.5" cy="897.45" rx="0.9" ry="0.75"/><ellipse cx="833.5" cy="897.45" rx="0.9" ry="0.75"/><ellipse cx="863.5" cy="897.45" rx="0.9" ry="0.75"/><ellipse cx="867.5" cy="897.45" rx="0.9" ry="0.75"/><ellipse cx="871.5" cy="897.45" rx="0.9" ry="0.75"/><ellipse cx="876.5" cy="897.45" rx="0.9" ry="0.75"/><ellipse cx="880.5" cy="897.45" rx="0.9" ry="0.75"/><ellipse cx="885.5" cy="897.45" rx="0.9" ry="0.75"/><ellipse cx="909.5" cy="897.45" rx="0.9" ry="0.75"/><ellipse cx="914.5" cy="897.45" rx="0.9" ry="0.75"/><ellipse cx="918.5" cy="897.45" rx="0.9" ry="0.75"/><ellipse cx="922.5" cy="897.45" rx="0.9" ry="0.75"/><ellipse cx="927.5" cy="897.45" rx="0.9" ry="0.75"/><ellipse cx="931.5" cy="897.45" rx="0.9" ry="0.75"/><ellipse cx="961.5" cy="897.45" rx="0.9" ry="0.75"/><ellipse cx="965.5" cy="897.45" rx="0.9" ry="0.75"/><ellipse cx="969.5" cy="897.45" rx="0.9" ry="0.75"/><ellipse cx="974.5" cy="897.45" rx="0.9" ry="0.75"/><ellipse cx="978.5" cy="897.45" rx="0.9" ry="0.75"/><ellipse cx="1007.5" cy="897.45" rx="0.9" ry="0.75"/><ellipse cx="1012.5" cy="897.45" rx="0.9" ry="0.75"/><ellipse cx="1016.5" cy="897.45" rx="0.9" ry="0.75"/><ellipse cx="1021.5" cy="897.45" rx="0.9" ry="0.75"/><ellipse cx="1025.5" cy="897.45" rx="0.9" ry="0.75"/><ellipse cx="1054.5" cy="897.45" rx="0.9" ry="0.75"/><ellipse cx="1059.5" cy="897.45" rx="0.9" ry="0.75"/><ellipse cx="1063.5" cy="897.45" rx="0.9" ry="0.75"/><ellipse cx="1067.5" cy="897.45" rx="0.9" ry="0.75"/><ellipse cx="1072.5" cy="897.45" rx="0.9" ry="0.75"/><ellipse cx="1076.5" cy="897.45" rx="0.9" ry="0.75"/><ellipse cx="1105.5" cy="897.45" rx="0.9" ry="0.75"/><ellipse cx="1110.5" cy="897.45" rx="0.9" ry="0.75"/><ellipse cx="1114.5" cy="897.45" rx="0.9" ry="0.75"/><ellipse cx="1119.5" cy="897.45" rx="0.9" ry="0.75"/><ellipse cx="1123.5" cy="897.45" rx="0.9" ry="0.75"/><ellipse cx="1152.5" cy="897.45" rx="0.9" ry="0.75"/><ellipse cx="1157.5" cy="897.45" rx="0.9" ry="0.75"/><ellipse cx="1161.5" cy="897.45" rx="0.9" ry="0.75"/><ellipse cx="1166.5" cy="897.45" rx="0.9" ry="0.75"/><ellipse cx="1170.5" cy="897.45" rx="0.9" ry="0.75"/><ellipse cx="1200.5" cy="897.45" rx="0.9" ry="0.75"/><ellipse cx="1204.5" cy="897.45" rx="0.9" ry="0.75"/><ellipse cx="1208.5" cy="897.45" rx="0.9" ry="0.75"/><ellipse cx="1213.5" cy="897.45" rx="0.9" ry="0.75"/><ellipse cx="1217.5" cy="897.45" rx="0.9" ry="0.75"/><ellipse cx="1221.5" cy="897.45" rx="0.9" ry="0.75"/><ellipse cx="1246.5" cy="897.45" rx="0.9" ry="0.75"/><ellipse cx="1250.5" cy="897.45" rx="0.9" ry="0.75"/><ellipse cx="1255.5" cy="897.45" rx="0.9" ry="0.75"/><ellipse cx="1259.5" cy="897.45" rx="0.9" ry="0.75"/><ellipse cx="1264.5" cy="897.45" rx="0.9" ry="0.75"/><ellipse cx="1268.5" cy="897.45" rx="0.9" ry="0.75"/><ellipse cx="1297.5" cy="897.45" rx="0.9" ry="0.75"/><ellipse cx="1302.5" cy="897.45" rx="0.9" ry="0.75"/><ellipse cx="1306.5" cy="897.45" rx="0.9" ry="0.75"/><ellipse cx="1311.5" cy="897.45" rx="0.9" ry="0.75"/><ellipse cx="1315.5" cy="897.45" rx="0.9" ry="0.75"/></g>

  <!-- target line -->
  <path d="M118.3,518 L1046.1,518 L1046.1,138.6 L1341,138.6" fill="none" stroke="#50c49b" stroke-width="2.3"/>

  <!-- MA3 line -->
  <path d="M117.8,757.3 L118.8,765.8 L119.8,774.4 L120.8,780.6 L121.8,781.2 L122.8,780.4 L123.8,779.2 L124.8,778.1 L125.8,776.9 L126.8,775.8 L127.8,774.6 L128.8,773.5 L129.8,775.3 L130.8,777.1 L131.8,778.9 L132.8,780.7 L133.8,781.5 L134.8,781.4 L135.8,780.3 L136.8,777.1 L137.8,773.6 L138.8,760.8 L139.8,747.5 L140.8,715.5 L141.8,678.6 L142.8,646.6 L143.8,619.5 L144.8,592.4 L145.8,565.6 L146.8,548.8 L147.8,534.8 L148.8,521.0 L149.8,518.0 L150.8,518.0 L151.8,518.0 L152.8,518.0 L153.8,518.0 L154.8,518.0 L155.8,518.1 L156.8,526.0 L157.8,534.0 L158.8,542.1 L159.8,556.3 L160.8,570.8 L161.8,592.6 L162.8,617.5 L163.8,642.4 L164.8,658.3 L165.8,670.4 L166.8,682.4 L167.8,694.4 L168.8,706.3 L169.8,713.2 L170.8,712.6 L171.8,709.8 L172.8,699.3 L173.8,688.7 L174.8,678.1 L175.8,672.3 L176.8,673.6 L177.8,674.7 L178.8,675.7 L179.8,676.8 L180.8,684.2 L181.8,692.3 L182.8,700.5 L183.8,708.6 L184.8,713.2 L185.8,712.7 L186.8,712.8 L187.8,715.8 L188.8,718.9 L189.8,721.9 L190.8,725.0 L191.8,728.1 L192.8,731.1 L193.8,734.2 L194.8,737.3 L195.8,740.3 L196.8,742.0 L197.8,741.7 L198.8,741.0 L199.8,737.9 L200.8,734.7 L201.8,731.5 L202.8,728.3 L203.8,725.1 L204.8,721.9 L205.8,718.7 L206.8,717.9 L207.8,718.6 L208.8,719.3 L209.8,720.0 L210.8,720.7 L211.8,720.7 L212.8,719.6 L213.8,718.4 L214.8,717.3 L215.8,716.1 L216.8,714.9 L217.8,712.8 L218.8,710.7 L219.8,708.5 L220.8,706.4 L221.8,704.4 L222.8,705.0 L223.8,706.3 L224.8,707.7 L225.8,709.0 L226.8,710.3 L227.8,711.7 L228.8,712.6 L229.8,709.8 L230.8,706.9 L231.8,704.1 L232.8,701.2 L233.8,696.7 L234.8,691.0 L235.8,685.4 L236.8,679.7 L237.8,675.1 L238.8,678.6 L239.8,682.2 L240.8,685.8 L241.8,689.4 L242.8,693.0 L243.8,696.6 L244.8,700.3 L245.8,703.8 L246.8,705.2 L247.8,706.0 L248.8,706.7 L249.8,706.2 L250.8,705.4 L251.8,704.5 L252.8,703.7 L253.8,703.6 L254.8,705.2 L255.8,706.9 L256.8,705.9 L257.8,704.9 L258.8,703.9 L259.8,702.9 L260.8,700.9 L261.8,697.9 L262.8,694.9 L263.8,691.9 L264.8,688.9 L265.8,685.8 L266.8,682.8 L267.8,679.8 L268.8,676.8 L269.8,676.3 L270.8,678.3 L271.8,680.3 L272.8,682.3 L273.8,684.2 L274.8,682.5 L275.8,680.8 L276.8,678.9 L277.8,670.0 L278.8,661.0 L279.8,651.9 L280.8,635.9 L281.8,624.2 L282.8,617.0 L283.8,609.9 L284.8,602.9 L285.8,599.8 L286.8,598.4 L287.8,600.5 L288.8,605.9 L289.8,604.5 L290.8,603.0 L291.8,601.5 L292.8,599.9 L293.8,596.8 L294.8,592.2 L295.8,587.5 L296.8,582.8 L297.8,578.2 L298.8,574.5 L299.8,574.8 L300.8,575.1 L301.8,577.9 L302.8,581.1 L303.8,584.2 L304.8,587.3 L305.8,590.5 L306.8,593.5 L307.8,590.4 L308.8,586.5 L309.8,582.6 L310.8,578.8 L311.8,574.9 L312.8,571.0 L313.8,569.3 L314.8,567.8 L315.8,566.3 L316.8,568.4 L317.8,570.9 L318.8,573.4 L319.8,575.9 L320.8,576.5 L321.8,574.4 L322.8,572.3 L323.8,570.1 L324.8,568.0 L325.8,565.9 L326.8,562.4 L327.8,557.1 L328.8,551.8 L329.8,546.5 L330.8,541.2 L331.8,539.8 L332.8,539.0 L333.8,538.1 L334.8,537.3 L335.8,536.5 L336.8,536.7 L337.8,537.7 L338.8,540.0 L339.8,544.3 L340.8,547.8 L341.8,545.8 L342.8,543.8 L343.8,543.9 L344.8,544.2 L345.8,546.6 L346.8,550.5 L347.8,554.4 L348.8,558.2 L349.8,562.2 L350.8,566.2 L351.8,570.3 L352.8,574.2 L353.8,576.0 L354.8,572.9 L355.8,569.6 L356.8,566.4 L357.8,563.1 L358.8,559.8 L359.8,556.6 L360.8,553.3 L361.8,550.1 L362.8,548.6 L363.8,551.0 L364.8,553.5 L365.8,556.0 L366.8,558.4 L367.8,557.3 L368.8,555.2 L369.8,553.1 L370.8,551.0 L371.8,548.9 L372.8,548.2 L373.8,548.9 L374.8,549.7 L375.8,554.5 L376.8,563.2 L377.8,572.0 L378.8,580.8 L379.8,589.5 L380.8,596.9 L381.8,599.1 L382.8,601.1 L383.8,598.9 L384.8,596.7 L385.8,594.4 L386.8,592.1 L387.8,589.9 L388.8,587.6 L389.8,585.3 L390.8,583.1 L391.8,582.2 L392.8,582.0 L393.8,581.7 L394.8,581.5 L395.8,581.2 L396.8,581.0 L397.8,581.3 L398.8,581.9 L399.8,582.5 L400.8,583.0 L401.8,580.2 L402.8,577.0 L403.8,573.8 L404.8,570.6 L405.8,567.4 L406.8,564.2 L407.8,561.1 L408.8,559.7 L409.8,561.2 L410.8,562.7 L411.8,565.6 L412.8,570.6 L413.8,575.6 L414.8,580.6 L415.8,585.5 L416.8,587.2 L417.8,588.5 L418.8,589.8 L419.8,591.1 L420.8,592.4 L421.8,591.4 L422.8,589.0 L423.8,586.6 L424.8,584.2 L425.8,584.8 L426.8,585.8 L427.8,586.8 L428.8,587.8 L429.8,588.8 L430.8,589.8 L431.8,590.8 L432.8,590.5 L433.8,588.5 L434.8,586.4 L435.8,584.2 L436.8,582.1 L437.8,580.0 L438.8,578.0 L439.8,579.2 L440.8,582.5 L441.8,585.9 L442.8,589.3 L443.8,592.7 L444.8,596.0 L445.8,596.5 L446.8,595.1 L447.8,593.7 L448.8,592.2 L449.8,590.8 L450.8,589.3 L451.8,587.9 L452.8,587.9 L453.8,588.3 L454.8,590.4 L455.8,593.7 L456.8,597.1 L457.8,600.4 L458.8,603.4 L459.8,603.4 L460.8,603.4 L461.8,603.4 L462.8,602.6 L463.8,600.0 L464.8,597.4 L465.8,594.8 L466.8,592.2 L467.8,589.9 L468.8,589.5 L469.8,589.2 L470.8,588.9 L471.8,588.6 L472.8,590.2 L473.8,593.7 L474.8,597.2 L475.8,600.7 L476.8,604.2 L477.8,605.4 L478.8,606.5 L479.8,607.7 L480.8,608.8 L481.8,607.3 L482.8,603.3 L483.8,599.3 L484.8,595.3 L485.8,595.0 L486.8,595.7 L487.8,596.5 L488.8,600.2 L489.8,604.7 L490.8,609.2 L491.8,613.8 L492.8,618.3 L493.8,622.8 L494.8,626.1 L495.8,629.1 L496.8,632.0 L497.8,631.4 L498.8,629.9 L499.8,628.3 L500.8,626.7 L501.8,627.4 L502.8,628.1 L503.8,628.8 L504.8,629.5 L505.8,630.2 L506.8,630.9 L507.8,631.6 L508.8,631.7 L509.8,631.1 L510.8,630.5 L511.8,629.9 L512.8,628.0 L513.8,625.5 L514.8,623.1 L515.8,620.6 L516.8,618.2 L517.8,617.3 L518.8,618.1 L519.8,618.8 L520.8,620.7 L521.8,623.7 L522.8,626.6 L523.8,629.6 L524.8,631.9 L525.8,633.9 L526.8,635.8 L527.8,637.7 L528.8,636.5 L529.8,634.9 L530.8,633.3 L531.8,631.3 L532.8,627.9 L533.8,624.5 L534.8,621.1 L535.8,617.7 L536.8,614.3 L537.8,613.7 L538.8,613.5 L539.8,613.4 L540.8,613.7 L541.8,616.2 L542.8,618.7 L543.8,621.2 L544.8,623.7 L545.8,624.7 L546.8,625.0 L547.8,625.3 L548.8,625.5 L549.8,625.8 L550.8,625.9 L551.8,625.8 L552.8,625.7 L553.8,625.5 L554.8,625.4 L555.8,625.3 L556.8,625.5 L557.8,626.1 L558.8,626.4 L559.8,623.9 L560.8,621.5 L561.8,619.0 L562.8,616.5 L563.8,614.0 L564.8,611.9 L565.8,613.0 L566.8,614.3 L567.8,615.5 L568.8,617.7 L569.8,621.5 L570.8,625.2 L571.8,628.9 L572.8,632.7 L573.8,636.4 L574.8,637.5 L575.8,634.6 L576.8,631.7 L577.8,626.9 L578.8,617.7 L579.8,608.5 L580.8,601.7 L581.8,600.5 L582.8,599.3 L583.8,598.1 L584.8,597.0 L585.8,596.0 L586.8,596.1 L587.8,599.0 L588.8,596.2 L589.8,591.9 L590.8,587.5 L591.8,583.2 L592.8,578.8 L593.8,574.5 L594.8,570.1 L595.8,565.9 L596.8,566.7 L597.8,572.8 L598.8,578.9 L599.8,585.0 L600.8,591.1 L601.8,597.3 L602.8,603.4 L603.8,609.3 L604.8,601.9 L605.8,594.3 L606.8,586.7 L607.8,579.1 L608.8,571.5 L609.8,563.9 L610.8,556.3 L611.8,548.8 L612.8,547.7 L613.8,549.3 L614.8,551.1 L615.8,552.8 L616.8,554.5 L617.8,554.7 L618.8,553.3 L619.8,551.9 L620.8,550.5 L621.8,547.3 L622.8,543.4 L623.8,539.4 L624.8,535.5 L625.8,529.9 L626.8,524.1 L627.8,518.5 L628.8,518.2 L629.8,518.6 L630.0,518.0 L632.2,519.1 L634.5,517.9 L636.7,517.5 L638.9,519.3 L641.2,520.4 L643.4,519.5 L645.6,520.3 L647.8,521.1 L650.1,519.4 L652.3,518.2 L654.5,521.0 L656.8,521.0 L659.0,518.8 L661.2,519.3 L663.5,518.6 L665.7,519.8 L667.9,519.3 L670.1,518.3 L672.4,521.0 L674.6,518.9 L676.8,518.9 L679.1,518.2 L681.3,519.3 L683.5,517.0 L685.8,518.2 L688.0,520.0 L690.2,523.6 L692.5,523.2 L694.7,520.7 L696.9,520.2 L699.1,518.9 L701.4,517.1 L703.6,518.9 L705.8,519.3 L708.1,519.4 L710.3,517.8 L712.5,518.9 L714.8,518.4 L717.0,518.6 L719.2,518.2 L721.4,520.0 L723.7,517.9 L725.9,516.8 L728.1,519.5 L730.4,519.5 L732.6,518.4 L734.8,519.4 L737.1,520.6 L739.3,519.0 L741.5,520.0 L743.8,520.2 L746.0,518.4 L748.2,519.5 L750.4,516.9 L752.7,519.9 L754.9,519.1 L757.1,518.0 L759.4,518.2 L761.6,518.1 L763.8,520.7 L766.1,521.9 L768.3,522.9 L770.5,523.7 L772.7,523.2 L775.0,520.5 L777.2,519.2 L779.4,518.2 L781.7,517.2 L783.9,518.4 L786.1,518.8 L788.4,517.8 L790.6,518.4 L792.8,519.1 L795.1,519.6 L797.3,517.6 L799.5,519.1 L801.7,517.9 L804.0,518.9 L806.2,520.1 L808.4,519.8 L810.7,518.6 L812.9,518.8 L815.1,519.6 L817.4,519.6 L819.6,520.0 L821.8,519.9 L824.0,517.3 L826.3,517.8 L828.5,517.8 L830.7,518.3 L833.0,516.8 L835.2,517.0 L837.4,518.3 L839.7,516.6 L841.9,517.8 L844.1,519.8 L846.4,519.7 L848.6,520.4 L850.8,518.5 L853.0,520.1 L855.3,517.0 L857.5,516.3 L859.7,519.2 L862.0,520.3 L864.2,521.3 L866.4,522.1 L868.7,522.4 L870.9,520.0 L873.1,518.0 L875.3,516.6 L877.6,516.5 L879.8,518.5 L882.0,518.9 L884.3,518.1 L886.5,519.7 L888.7,517.0 L891.0,518.6 L893.2,522.1 L895.4,524.3 L897.7,526.2 L899.9,526.1 L902.1,524.5 L904.3,522.4 L906.6,520.2 L908.8,518.4 L911.0,518.0 L913.3,518.2 L915.5,519.4 L917.7,516.9 L920.0,518.1 L922.2,516.7 L924.4,516.9 L926.6,518.2 L928.9,518.6 L931.1,520.4 L933.3,521.5 L935.6,523.0 L937.8,526.0 L940.0,530.0 L942.3,532.1 L944.5,534.4 L946.7,534.4 L948.9,536.0 L951.2,532.1 L953.4,526.4 L955.6,519.3 L957.9,520.0 L960.1,518.7 L962.3,519.6 L964.6,520.3 L966.8,524.3 L969.0,526.9 L971.3,533.0 L973.5,535.8 L975.7,538.5 L977.9,537.3 L980.2,532.2 L982.4,526.4 L984.6,520.7 L986.9,518.5 L989.1,519.7 L991.3,520.2 L993.6,519.3 L995.8,517.6 L998.0,517.2 L1000.2,515.2 L1002.5,518.8 L1004.7,523.0 L1006.9,526.0 L1009.2,526.2 L1011.4,523.4 L1013.6,520.2 L1015.9,519.5 L1018.1,517.7 L1020.3,516.4 L1022.6,517.3 L1024.8,517.5 L1027.0,515.6 L1029.2,516.7 L1031.5,517.1 L1033.7,518.4 L1035.9,518.4 L1038.2,519.0 L1040.8,518.7 L1041.8,517.7 L1042.8,516.8 L1043.8,515.8 L1044.8,513.5 L1045.8,506.3 L1046.8,499.1 L1047.8,491.8 L1048.8,484.4 L1049.8,476.9 L1050.8,469.3 L1051.8,461.8 L1052.8,455.9 L1053.8,450.4 L1054.8,444.9 L1055.8,439.4 L1056.8,433.9 L1057.8,429.6 L1058.8,426.0 L1059.8,422.3 L1060.8,421.2 L1061.8,421.2 L1062.8,421.3 L1063.8,424.5 L1064.8,429.1 L1065.8,433.7 L1066.8,438.3 L1067.8,442.9 L1068.8,446.6 L1069.8,450.0 L1070.8,453.2 L1071.8,452.9 L1072.8,450.8 L1073.8,445.0 L1074.8,437.5 L1075.8,430.0 L1076.8,422.5 L1077.8,416.0 L1078.8,410.0 L1079.8,403.9 L1080.8,397.9 L1081.8,392.0 L1082.8,392.2 L1083.8,395.0 L1084.8,397.9 L1085.8,400.7 L1086.8,403.6 L1087.8,406.5 L1088.8,409.3 L1089.8,407.0 L1090.8,402.5 L1091.8,398.0 L1092.8,393.5 L1093.8,389.0 L1094.8,384.4 L1095.8,380.0 L1096.8,380.2 L1097.8,383.4 L1098.8,386.8 L1099.8,394.3 L1100.8,404.5 L1101.8,414.8 L1102.8,425.0 L1103.8,429.4 L1104.8,429.9 L1105.8,425.1 L1106.8,416.8 L1107.8,408.5 L1108.8,400.1 L1109.8,391.8 L1110.8,383.6 L1111.8,383.4 L1112.8,388.7 L1113.8,394.0 L1114.8,397.1 L1115.8,398.6 L1116.8,400.1 L1117.8,401.6 L1118.8,401.0 L1119.8,399.0 L1120.8,396.9 L1121.8,391.1 L1122.8,382.7 L1123.8,374.3 L1124.8,365.9 L1125.8,357.6 L1126.8,354.8 L1127.8,355.7 L1128.8,356.7 L1129.8,359.7 L1130.8,364.0 L1131.8,368.3 L1132.8,371.0 L1133.8,372.4 L1134.8,373.9 L1135.8,375.3 L1136.8,375.6 L1137.8,374.6 L1138.8,373.6 L1139.8,373.9 L1140.8,375.4 L1141.8,378.6 L1142.8,383.6 L1143.8,388.6 L1144.8,393.7 L1145.8,398.7 L1146.8,403.6 L1147.8,404.4 L1148.8,401.0 L1149.8,400.9 L1150.8,404.2 L1151.8,407.5 L1152.8,409.0 L1153.8,408.7 L1154.8,408.4 L1155.8,409.3 L1156.8,411.4 L1157.8,413.6 L1158.8,415.7 L1159.8,417.8 L1160.8,420.0 L1161.8,422.1 L1162.8,421.7 L1163.8,418.7 L1164.8,415.7 L1165.8,412.7 L1166.8,409.7 L1167.8,406.7 L1168.8,403.7 L1169.8,400.7 L1170.8,397.7 L1171.8,397.0 L1172.8,398.5 L1173.8,400.0 L1174.8,401.5 L1175.8,403.3 L1176.8,405.5 L1177.8,407.8 L1178.8,410.0 L1179.8,412.2 L1180.8,414.4 L1181.8,416.7 L1182.8,418.9 L1183.8,421.1 L1184.8,422.4 L1185.8,416.4 L1186.8,410.2 L1187.8,404.1 L1188.8,398.0 L1189.8,392.9 L1190.8,389.4 L1191.8,385.8 L1192.8,382.3 L1193.8,378.9 L1194.8,381.8 L1195.8,384.9 L1196.8,387.9 L1197.8,388.4 L1198.8,387.9 L1199.8,385.6 L1200.8,381.5 L1201.8,377.4 L1202.8,373.3 L1203.8,369.2 L1204.8,365.0 L1205.8,360.9 L1206.8,358.3 L1207.8,356.1 L1208.8,353.9 L1209.8,351.7 L1210.8,349.5 L1211.8,346.8 L1212.8,342.8 L1213.8,338.7 L1214.8,334.7 L1215.8,330.8 L1216.8,330.3 L1217.8,330.3 L1218.8,330.3 L1219.8,331.5 L1220.8,333.5 L1221.8,337.2 L1222.8,343.1 L1223.8,349.2 L1224.8,354.5 L1225.8,354.6 L1226.8,354.6 L1227.8,354.6 L1228.8,356.2 L1229.8,358.2 L1230.8,360.2 L1231.8,362.2 L1232.8,364.3 L1233.8,366.6 L1234.8,368.8 L1235.8,371.0 L1236.8,373.3 L1237.8,375.5 L1238.8,377.7 L1239.8,379.9 L1240.8,382.1 L1241.8,384.2 L1242.8,386.2 L1243.8,388.3 L1244.8,390.3 L1245.8,391.5 L1246.8,387.1 L1247.8,382.5 L1248.8,377.9 L1249.8,373.3 L1250.8,368.7 L1251.8,364.1 L1252.8,359.6 L1253.8,357.3 L1254.8,358.2 L1255.8,359.2 L1256.8,360.2 L1257.8,361.3 L1258.8,366.2 L1259.8,371.2 L1260.8,376.2 L1261.8,381.1 L1262.8,382.2 L1263.8,380.5 L1264.8,378.9 L1265.8,377.8 L1266.8,377.8 L1267.8,377.9 L1268.8,378.0 L1269.8,378.2 L1270.8,378.3 L1271.8,378.4 L1272.8,379.6 L1273.8,381.2 L1274.8,381.1 L1275.8,379.2 L1276.8,377.2 L1277.8,375.3 L1278.8,373.3 L1279.8,373.9 L1280.8,374.4 L1281.8,375.0 L1282.8,375.6 L1283.8,376.2 L1284.8,376.7 L1285.8,377.3 L1286.8,378.3 L1287.8,380.3 L1288.8,381.2 L1289.8,374.2 L1290.8,367.1 L1291.8,359.9 L1292.8,352.8 L1293.8,345.6 L1294.8,338.4 L1295.8,331.4 L1296.8,328.0 L1297.8,330.3 L1298.8,332.6 L1299.8,335.6 L1300.8,343.5 L1301.8,351.5 L1302.8,359.6 L1303.8,367.6 L1304.8,375.5 L1305.8,380.6 L1306.8,383.6 L1307.8,384.6 L1308.8,382.7 L1309.8,380.6 L1310.8,377.9 L1311.8,369.5 L1312.8,361.1 L1313.8,352.8 L1314.8,350.5 L1315.8,350.8 L1316.8,351.1 L1317.8,350.5 L1318.8,348.4 L1319.8,345.5 L1320.8,339.3 L1321.8,333.0 L1322.8,326.8 L1323.8,320.5 L1324.8,311.5 L1325.8,301.8 L1326.8,292.2 L1327.8,287.9 L1328.8,288.8 L1329.8,289.8 L1330.8,291.2 L1331.8,294.2 L1332.8,297.2 L1333.8,300.2 L1334.8,303.1 L1335.8,302.2 L1336.8,300.2 L1337.8,298.8 L1338.8,297.7 L1339.8,292.5 L1340.8,281.1 L1341.2,276.3" fill="none" stroke="#000" stroke-width="2.4" stroke-linejoin="round" stroke-linecap="round"/>

  <!-- watermark -->
  <g>
    <path d="M634.8,566.3 Q689,548 744,534.7 A59.2,59.2 0 1 0 634.8,566.3 Z" fill="#f4603e" fill-opacity="0.22"/>
    <path d="M634.8,566.3 Q689,548 744,534.7 A59.2,59.2 0 0 1 634.8,566.3 Z" fill="#1e1870" fill-opacity="0.22"/>
  <text x="776.23" y="564.2" font-size="85" font-weight="bold" textLength="195.21" lengthAdjust="spacingAndGlyphs" fill="#000" fill-opacity="0.15">Dune</text>
  </g>
  <!-- annotations -->
  <text x="140.79" y="340" font-size="42" textLength="331.89" lengthAdjust="spacingAndGlyphs" fill="#111" stroke="#fff" stroke-width="0.8">Dencun upgrade</text>
  <text x="722.86" y="300" font-size="42" textLength="300.95" lengthAdjust="spacingAndGlyphs" fill="#111" stroke="#fff" stroke-width="0.8">Pectra upgrade</text>
  <text x="141.92" y="377.3" font-size="30.5" textLength="190.29" lengthAdjust="spacingAndGlyphs" fill="#111" stroke="#fff" stroke-width="0.55">blobs created</text>
  <text x="723.97" y="337.1" font-size="30.5" textLength="216.90" lengthAdjust="spacingAndGlyphs" fill="#111" stroke="#fff" stroke-width="0.55">blobs increased</text>
  <text x="535.00" y="459.2" font-size="28" textLength="80.16" lengthAdjust="spacingAndGlyphs" fill="#111" stroke="#fff" stroke-width="0.55">target</text>
  <text x="654.27" y="460" font-size="31" textLength="16.01" lengthAdjust="spacingAndGlyphs" fill="#111" stroke="#fff" stroke-width="0.55">3</text>
  <text x="532.84" y="501.2" font-size="28" textLength="57.17" lengthAdjust="spacingAndGlyphs" fill="#111" stroke="#fff" stroke-width="0.55">max</text>
  <text x="654.40" y="502" font-size="31" fill="#111" stroke="#fff" stroke-width="0.55">6</text>
  <text x="1054.00" y="73.3" font-size="28" textLength="80.57" lengthAdjust="spacingAndGlyphs" fill="#111" stroke="#fff" stroke-width="0.55">target</text>
  <text x="1173.00" y="73.6" font-size="31" fill="#111" stroke="#fff" stroke-width="0.55">6</text>
  <text x="1052.84" y="115.5" font-size="28" textLength="57.08" lengthAdjust="spacingAndGlyphs" fill="#111" stroke="#fff" stroke-width="0.55">max</text>
  <text x="1174.03" y="115.8" font-size="31" textLength="16.69" lengthAdjust="spacingAndGlyphs" fill="#111" stroke="#fff" stroke-width="0.55">9</text>
  <text x="625.09" y="457.2" font-size="21" textLength="18.61" lengthAdjust="spacingAndGlyphs" fill="#111" stroke="#fff" stroke-width="0.25">=</text>
  <text x="626.11" y="500.0" font-size="21" textLength="18.67" lengthAdjust="spacingAndGlyphs" fill="#111" stroke="#fff" stroke-width="0.25">=</text>
  <text x="1143.66" y="70.5" font-size="21" textLength="19.57" lengthAdjust="spacingAndGlyphs" fill="#111" stroke="#fff" stroke-width="0.25">=</text>
  <text x="1144.66" y="113.5" font-size="21" textLength="19.57" lengthAdjust="spacingAndGlyphs" fill="#111" stroke="#fff" stroke-width="0.25">=</text>
  <text x="534.97" y="419.5" font-size="30" font-weight="bold" textLength="165.97" lengthAdjust="spacingAndGlyphs" fill="#111" stroke="#fff" stroke-width="0.6">blob count:</text>
  <g fill="none" stroke="#111" stroke-width="2.3" stroke-linecap="round" stroke-linejoin="round">
    <path d="M181.1,393.1 C175,404 164,424 160.5,437 C158.5,446 161.5,452 160.9,460 C160,470 154,478 148,484 C144,487.5 140,490 138.2,491.3"/>
    <path d="M137.3,475.5 L138,491.5 L159.2,485.3"/>
    <path d="M918.8,364.8 C919.5,385 923,402 932,417 C938,426 943,430 950,430.5 C962,431 972,432 980,438 C992,450 1008,472 1023.3,493.3"/>
    <path d="M1024.8,467.8 L1023.5,493.5 L1000.8,484.3"/>
  </g>

  <!-- legend -->
  <text x="1521.00" y="439.3" font-size="22" textLength="25.95" lengthAdjust="spacingAndGlyphs" fill="#555">All</text>
  <text x="1434.90" y="473.7" font-size="22" textLength="111.92" lengthAdjust="spacingAndGlyphs" fill="#555">Blobs MA3</text>
  <text x="1483.79" y="508" font-size="22" textLength="62.46" lengthAdjust="spacingAndGlyphs" fill="#555">Target</text>
  <text x="1465.00" y="542.6" font-size="22" textLength="81.96" lengthAdjust="spacingAndGlyphs" fill="#555">Average</text>
  <rect x="1556" y="424" width="15.5" height="15.5" rx="3.5" fill="#636363"/>
  <rect x="1556" y="458.5" width="15.5" height="15.5" rx="3.5" fill="#000"/>
  <rect x="1556" y="493" width="15.5" height="15.5" rx="3.5" fill="#3fcf9a"/>
  <rect x="1556" y="527.3" width="15.5" height="15.5" rx="3.5" fill="#c8c8c8"/>

  <!-- footer -->
  <clipPath id="av"><circle cx="39" cy="953.75" r="10.3"/></clipPath>
  <g clip-path="url(#av)">
    <rect x="28" y="943" width="22" height="22" fill="#e2a9d6"/>
    <path d="M33,952.3 C33,946 45.5,946 45.5,952.3 Z" fill="#c3261f"/>
    <rect x="33" y="950.5" width="2" height="6" fill="#5c1a22"/>
    <rect x="43.5" y="950.5" width="2" height="5" fill="#7a2a40"/>
    <rect x="35" y="952.4" width="2.4" height="2.2" fill="#f2b3b0"/>
    <rect x="37.4" y="952.2" width="2.6" height="3" fill="#6a2231"/>
    <rect x="40" y="952.4" width="2.4" height="2.2" fill="#f0c0c0"/>
    <rect x="33.5" y="955.5" width="9" height="2.6" fill="#6fb58e"/>
    <rect x="31" y="958" width="16" height="7" fill="#6d7896"/>
    <rect x="36" y="958.8" width="4.2" height="4.5" fill="#d89b6e"/>
    <rect x="43" y="957.8" width="3" height="3.5" fill="#8fd6d6"/>
  </g>
  <text x="55.99" y="961" font-size="19.5" fill="#555">@hildobby</text>
  <g fill="#111">
    <circle cx="1478.3" cy="953.7" r="1.9"/>
    <circle cx="1485.4" cy="953.7" r="1.9"/>
    <circle cx="1492.2" cy="953.7" r="1.9"/>
  </g>
  <rect x="1506.3" y="940.6" width="65.5" height="26.4" rx="6" fill="#e5f7ee"/>
  <text x="1514.21" y="960.7" font-size="20" textLength="21.93" lengthAdjust="spacingAndGlyphs" fill="#17744a">4h</text>
  <g fill="none" stroke="#136c43" stroke-width="2" stroke-linejoin="round" stroke-linecap="round" transform="translate(1544.06,943.86) scale(0.82)">
    <path d="M3.85 8.62a4 4 0 0 1 4.78-4.77 4 4 0 0 1 6.74 0 4 4 0 0 1 4.78 4.78 4 4 0 0 1 0 6.74 4 4 0 0 1-4.77 4.78 4 4 0 0 1-6.75 0 4 4 0 0 1-4.78-4.77 4 4 0 0 1 0-6.76Z"/>
  </g>
  <path d="M1550.3,953.9 L1552.8,956.3 L1557.4,951.6" fill="none" stroke="#136c43" stroke-width="1.8" stroke-linejoin="round" stroke-linecap="round"/>
</svg>
</body></html>
